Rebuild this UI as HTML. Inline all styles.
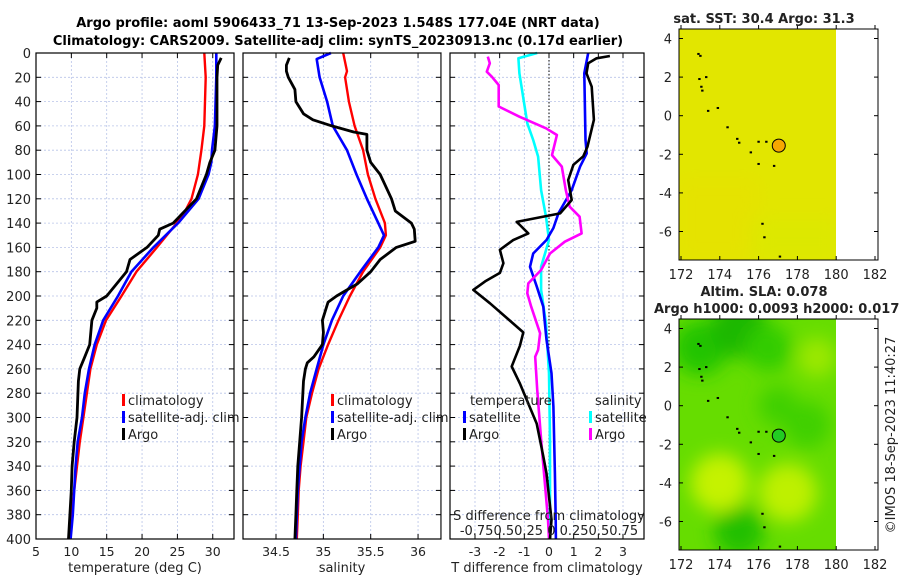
<!DOCTYPE html>
<html><head><meta charset="utf-8"><style>
body{margin:0;background:#fff}
svg{display:block;font-family:"DejaVu Sans","Liberation Sans",sans-serif}
</style></head><body>
<svg id="fig" width="900" height="580" viewBox="0 0 900 580">
<defs>
<filter id="blur" x="-50%" y="-50%" width="200%" height="200%"><feGaussianBlur stdDeviation="9"/></filter>
<clipPath id="cpTop"><rect x="679" y="29" width="157" height="231"/></clipPath>
<clipPath id="cpBot"><rect x="679" y="319" width="157" height="231"/></clipPath>
</defs>
<text x="338" y="27" text-anchor="middle" font-size="13" font-weight="bold">Argo profile: aoml 5906433_71 13-Sep-2023 1.548S 177.04E (NRT data)</text>
<text x="338" y="45" text-anchor="middle" font-size="13" font-weight="bold">Climatology: CARS2009. Satellite-adj clim: synTS_20230913.nc (0.17d earlier)</text>
<g id="g"></g>
</svg>
<script>
// ---- depth axes ----
const depthTicks=[0,20,40,60,80,100,120,140,160,180,200,220,240,260,280,300,320,340,360,380,400];
// ---- temperature panel ----
const tTicks=[5,10,15,20,25,30];
const tClimDepth=[0,20,60,80,100,120,130,140,160,180,200,220,240,260,280,300,320,340,360,380,400];
const tClim=[28.8,29.0,28.8,28.4,27.9,27.0,26.1,24.9,22.1,19.2,17.1,14.9,13.6,12.7,12.2,11.7,11.2,10.8,10.4,10.0,9.6];
const tSatDepth=[0,20,60,80,90,100,120,140,160,180,200,220,240,260,280,300,320,340,360,380,400];
const tSat=[30.5,30.5,30.3,29.9,29.8,29.4,28.0,25.1,21.6,18.5,16.6,14.5,13.3,12.5,11.9,11.5,10.9,10.6,10.4,10.2,9.9];
const tArgoDepth=[4,10,20,60,80,90,100,120,140,145,150,160,170,180,190,200,205,210,220,240,250,260,270,300,320,340,360,380,400];
const tArgo=[31.2,30.7,30.6,30.6,30.3,29.6,29.1,27.7,24.4,22.5,22.3,20.7,18.3,17.8,16.4,15.0,13.6,13.6,12.9,12.6,11.9,11.2,11.0,10.8,10.4,10.1,10.0,9.8,9.6];
// ---- salinity panel ----
const sTicks=[34.5,35,35.5,36];
const sClimDepth=[0,15,20,40,60,80,100,120,140,150,160,180,200,220,240,260,280,300,320,340,360,380,400];
const sClim=[35.21,35.25,35.23,35.27,35.33,35.42,35.47,35.55,35.65,35.66,35.6,35.42,35.28,35.16,35.05,34.95,34.88,34.82,34.79,34.76,34.74,34.73,34.72];
const sSatDepth=[0,5,20,40,60,80,100,120,140,150,160,180,200,220,240,260,280,300,320,340,360,380,400];
const sSat=[35.08,34.93,34.96,35.04,35.1,35.25,35.35,35.46,35.58,35.64,35.58,35.39,35.21,35.09,35.0,34.93,34.86,34.81,34.77,34.75,34.73,34.72,34.71];
const sArgoDepth=[4,10,15,20,30,40,50,55,60,65,67,80,90,100,120,130,140,145,155,160,170,180,190,195,200,205,210,220,230,240,250,255,260,270,300,320,340,360,380,400];
const sArgo=[34.64,34.61,34.61,34.63,34.7,34.71,34.79,34.89,35.09,35.32,35.46,35.46,35.5,35.6,35.72,35.76,35.93,35.96,35.97,35.77,35.6,35.5,35.36,35.25,35.14,35.05,35.03,34.99,35.0,34.99,34.9,34.83,34.81,34.79,34.77,34.75,34.73,34.72,34.71,34.7];
// ---- difference panel ----
const dTicks=[-3,-2,-1,0,1,2,3];
const dSTickLabels=["-0.75","0.5","0.25","0","0.25","0.5","0.75"];
const dTSatDepth=[0,16.7,71.6,82.6,93.5,112.8,132,144,153.9,165,176,192,208.8,236,263.6,291,346,384,400];
const dTSat=[1.59,1.43,1.48,1.53,1.26,0.92,0.38,0.18,-0.1,-0.64,-0.77,-0.5,-0.23,-0.1,0.1,0.18,0.24,0.27,0.28];
const dTArgoDepth=[2.5,4.4,8.5,16.7,27.7,55,77,85,92,104.5,121,132,139,141.6,148.5,154,162,173,181,188,195,206,230,241,258,272,305,332,346,384,400];
const dTArgo=[2.47,1.93,1.59,1.52,1.73,1.82,1.56,1.39,0.99,0.78,0.92,0.45,-1.31,-1.18,-0.84,-1.45,-1.99,-1.85,-1.99,-2.59,-3.07,-2.39,-1.04,-1.18,-1.51,-1.18,-0.5,-0.23,-0.1,0.1,0.04];
const dSSatDepth=[0,4.4,16.7,57.9,71.6,85.3,112.8,134.7,153.9,176,195,222.5,263.6,318,384,400];
const dSSat=[-0.12,-0.31,-0.3,-0.22,-0.16,-0.11,-0.08,-0.03,0,-0.08,-0.08,-0.03,0,0.01,0.01,0.01];
const dSArgoDepth=[3,8.5,15.4,19.5,26.3,44,52.4,62,67.5,84,93.5,112.8,126.5,134.7,148.5,155.3,165,178.6,189.6,197.8,208.8,230.7,244.4,250,277,318,384,400];
const dSArgo=[-0.62,-0.6,-0.63,-0.58,-0.51,-0.51,-0.3,-0.03,0.08,0.03,0.13,0.17,0.21,0.31,0.33,0.16,0.01,-0.08,-0.21,-0.22,-0.18,-0.09,-0.11,-0.14,-0.12,-0.08,-0.01,0];
// ---- maps ----
const lonTicks=[172,174,176,178,180,182];
const latTicks=[-6,-4,-2,0,2,4];
const argoLon=177.04, argoLat=-1.55;
const islandLon=[172.9,173.0,172.95,173.05,173.1,173.4,173.9,174.4,174.9,175.0,175.6,176.0,176.4,176.0,176.8,176.2,176.3,177.1,173.3];
const islandLat=[3.2,3.1,1.9,1.5,1.3,0.25,0.4,-0.6,-1.2,-1.4,-1.9,-1.35,-1.35,-2.5,-2.6,-5.6,-6.3,-7.3,2.0];
const slaLon=[173,175,176.5,177,178.5,175,177.5,174,179];
const slaLat=[3,4,3,0,-1,-6.5,-4.5,-4,2.5];
const slaR=[1.4,1.5,1.2,1.0,1.2,1.3,1.5,1.5,1.0];
const slaCol=["#22c400","#1fb800","#33cc00","#40d000","#40d000","#22c000","#bef000","#c5f200","#9be800"];

const NS="http://www.w3.org/2000/svg";
const G=document.getElementById('g');
function mk(tag,attrs,parent){const e=document.createElementNS(NS,tag);for(const k in attrs)e.setAttribute(k,attrs[k]);(parent||G).appendChild(e);return e;}
function txt(x,y,s,size,anchor,parent){const t=mk('text',{x:x,y:y,'font-size':size||12,'text-anchor':anchor||'middle',fill:'#222'},parent);t.textContent=s;return t;}

const Y0=53,Y1=539;
const dy=d=>Y0+(d/400)*(Y1-Y0);

function panel(name,x0,x1,xs,ticks,labels,xlabel,showY){
  const g=mk('g',{});
  
  
  ticks.forEach(v=>{mk('line',{x1:xs(v),x2:xs(v),y1:Y0,y2:Y1,stroke:'#b8c4e8','stroke-width':0.8,'stroke-dasharray':'2,2'},g);});
  depthTicks.forEach(d=>{mk('line',{x1:x0,x2:x1,y1:dy(d),y2:dy(d),stroke:'#b8c4e8','stroke-width':0.8,'stroke-dasharray':'2,2'},g);
    mk('line',{x1:x0,x2:x0+5,y1:dy(d),y2:dy(d),stroke:'#000'},g);mk('line',{x1:x1-5,x2:x1,y1:dy(d),y2:dy(d),stroke:'#000'},g);
    if(showY){const t=txt(x0-5,dy(d)+5,String(d),13,'end',g);}});
  ticks.forEach((v,i)=>{mk('line',{x1:xs(v),x2:xs(v),y1:Y1,y2:Y1-5,stroke:'#000'},g);mk('line',{x1:xs(v),x2:xs(v),y1:Y0,y2:Y0+5,stroke:'#000'},g);
    const t=txt(xs(v),Y1+17,labels[i],12.5,'middle',g);});
  const xl=txt((x0+x1)/2,Y1+33,xlabel,13,'middle',g);
  
  
  return g;
}
function frame(x0,x1,g){mk('rect',{x:x0,y:Y0,width:x1-x0,height:Y1-Y0,fill:'none',stroke:'#000','stroke-width':1.2},g);}
function series(g,xs,vals,depths,col,w,name){
  const p=mk('polyline',{points:vals.map((v,i)=>xs(v).toFixed(1)+','+dy(depths[i]).toFixed(1)).join(' '),fill:'none',stroke:col,'stroke-width':w||2.6,'stroke-linejoin':'round'},g);
  
  
}
function legend(g,x,y,items,name){
  items.forEach((it,i)=>{
    const r=mk('rect',{x:x,y:y+i*17-11,width:3,height:12,fill:it[1]},g);
    
    
    const t=txt(x+6,y+i*17,it[0],13,'start',g);
    
    
  });
}

const tx=v=>36+(v-5)*7.07;
let g1=panel('temperature',36,234,tx,tTicks,tTicks.map(String),'temperature (deg C)',true);
series(g1,tx,tClim,tClimDepth,'#ff0000',2.4,'temp-climatology-line');
series(g1,tx,tSat,tSatDepth,'#0000ff',2.6,'temp-satellite-line');
series(g1,tx,tArgo,tArgoDepth,'#000000',2.8,'temp-argo-line');
frame(36,234,g1);
legend(g1,122,405,[['climatology','#ff0000'],['satellite-adj. clim','#0000ff'],['Argo','#000']],'temp-legend');

const sx=v=>276+(v-34.5)*94.7;
let g2=panel('salinity',243,441,sx,sTicks,sTicks.map(String),'salinity',false);
series(g2,sx,sClim,sClimDepth,'#ff0000',2.4,'sal-climatology-line');
series(g2,sx,sSat,sSatDepth,'#0000ff',2.6,'sal-satellite-line');
series(g2,sx,sArgo,sArgoDepth,'#000000',2.8,'sal-argo-line');
frame(243,441,g2);
mk('rect',{x:441.6,y:Y0,width:8,height:Y1-Y0,fill:'#fff'},g2);
legend(g2,331,405,[['climatology','#ff0000'],['satellite-adj. clim','#0000ff'],['Argo','#000']],'sal-legend');

const dx=v=>549+v*24.67;
const dsx=v=>dx(v*4);
let g3=panel('difference',450,644,dx,dTicks,dTicks.map(String),'T difference from climatology',false);
mk('line',{x1:dx(0),x2:dx(0),y1:Y0,y2:Y1,stroke:'#000','stroke-width':1,'stroke-dasharray':'1.5,2'},g3);
series(g3,dsx,dSSat,dSSatDepth,'#00ffff',2.6,'sal-diff-satellite-line');
series(g3,dx,dTSat,dTSatDepth,'#0000ff',2.6,'temp-diff-satellite-line');
series(g3,dsx,dSArgo,dSArgoDepth,'#ff00ff',2.6,'sal-diff-argo-line');
series(g3,dx,dTArgo,dTArgoDepth,'#000000',2.6,'temp-diff-argo-line');
frame(450,644,g3);
let lt=txt(470,405,'temperature',13,'start',g3);
let ls=txt(595,405,'salinity',13,'start',g3);
legend(g3,463,422,[['satellite','#0000ff'],['Argo','#000']],'temp-diff-legend');
legend(g3,589,422,[['satellite','#00ffff'],['Argo','#ff00ff']],'sal-diff-legend');
let st=txt(549,520,'S difference from climatology',13,'middle',g3);
let sl=txt(549,535,'',13,'middle',g3);
sl.textContent='-0.750.50.25 0 0.250.50.75';


const mx=lon=>681+(lon-172)*19.4;
function map(name,top,base,clip,isSla){
  const g=mk('g',{});
  
  
  const my=lat=>top+9.5+(4-lat)*19.3;
  const cg=mk('g',{'clip-path':'url(#'+clip+')'},g);
  mk('rect',{x:679,y:top,width:157,height:231,fill:base},cg);
  if(isSla){
    const bg=mk('g',{filter:'url(#blur)'},cg);
    slaLon.forEach((lo,i)=>{const c=mk('circle',{cx:mx(lo),cy:my(slaLat[i]),r:slaR[i]*19.4,fill:slaCol[i]},bg);});
  } else {
    const bg=mk('g',{filter:'url(#blur)'},cg);
    mk('rect',{x:679,y:top+150,width:80,height:80,fill:'#eadc00',opacity:0.35},bg);
    mk('rect',{x:750,y:top+190,width:90,height:45,fill:'#d8ec00',opacity:0.5},bg);
  }
  mk('rect',{x:679,y:top,width:199,height:231,fill:'none',stroke:'#000','stroke-width':1},g);
  islandLon.forEach((lo,i)=>{const d=mk('rect',{x:mx(lo)-1.2,y:my(islandLat[i])-1,width:2.4,height:2,fill:'#000'},g);});
  const c=mk('circle',{cx:mx(argoLon),cy:my(argoLat),r:6.5,fill:isSla?'#22cc22':'#f7a800',stroke:'#000','stroke-width':1},g);
  
  
  latTicks.forEach(l=>{mk('line',{x1:679,x2:683,y1:my(l),y2:my(l),stroke:'#000'},g);mk('line',{x1:874,x2:878,y1:my(l),y2:my(l),stroke:'#000'},g);
    const t=txt(672,my(l)+5,String(l),13,'end',g);});
  lonTicks.forEach(l=>{mk('line',{x1:mx(l),x2:mx(l),y1:top+231,y2:top+227,stroke:'#000'},g);mk('line',{x1:mx(l),x2:mx(l),y1:top,y2:top-4,stroke:'#000'},g);
    const t=txt(mx(l),top+250,String(l),13,'middle',g);});
  return g;
}
map('sst-map',29,'#e2e600','cpTop',false);
map('sla-map',319,'#66dd00','cpBot',true);
let m1=txt(764,23,'sat. SST: 30.4 Argo: 31.3',13,'middle');m1.setAttribute('font-weight','bold');
let m2=txt(764,296,'Altim. SLA: 0.078',13,'middle');m2.setAttribute('font-weight','bold');
let m3=txt(654,313,'Argo h1000: 0.0093 h2000: 0.017',13,'start');m3.setAttribute('font-weight','bold');
let cp=txt(0,0,'©IMOS 18-Sep-2023 11:40:27',13,'middle');cp.setAttribute('transform','translate(895,435) rotate(-90)');
</script>
</body></html>
